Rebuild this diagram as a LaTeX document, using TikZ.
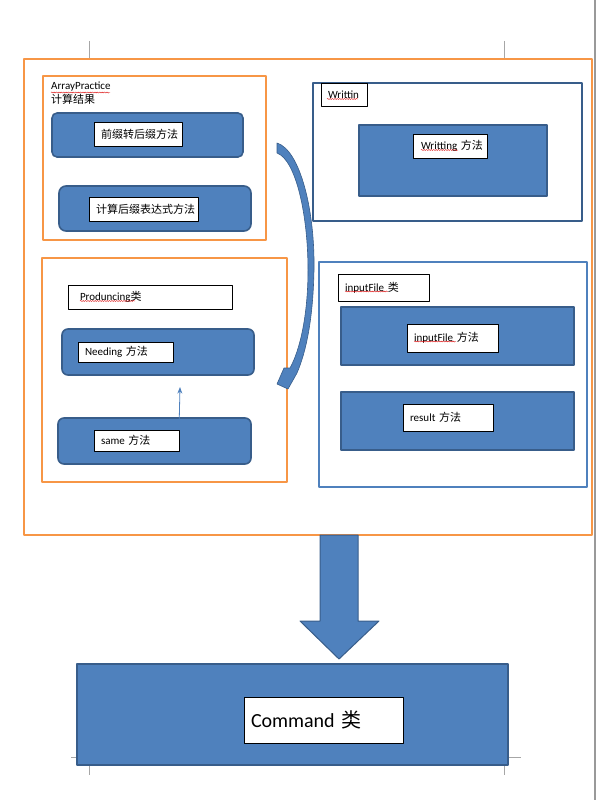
\documentclass[tikz,border=0pt]{standalone}
\usepackage{fontspec}
\setmainfont{Carlito}
\newfontfamily\cjk{Noto Sans CJK SC}
\usetikzlibrary{arrows.meta,decorations.pathmorphing}
\definecolor{wordblue}{HTML}{4F81BD}
\definecolor{wordedge}{HTML}{385D8A}
\definecolor{wordorange}{HTML}{F79646}
\tikzset{
  every picture/.style={font=\fontsize{11}{14}\selectfont, line join=round, >=Stealth},
  frame/.style n args={2}{draw=#1, line width=1.8pt, anchor=north west, inner sep=0pt, outer sep=0pt, minimum width=#2},
  method/.style n args={2}{fill=wordblue, draw=wordedge, line width=1.6pt, anchor=north west, inner sep=0pt, outer sep=0pt, minimum width=#1, minimum height=#2},
  namebox/.style n args={2}{draw, fill=white, line width=0.7pt, anchor=north west, inner xsep=7pt, inner ysep=0pt, outer sep=0pt, text width=#1-14pt, align=left, minimum height=#2},
  tick/.style={draw=gray!70, line width=0.8pt},
  spell/.style={draw=red!85!black, line width=0.4pt, decorate, decoration={snake, amplitude=0.6pt, segment length=2.4pt}},
}
\begin{document}
\begin{tikzpicture}[x=1pt,y=-1pt]
\useasboundingbox (0,0) rectangle (596,800);
\draw[gray!80,line width=2pt](594.5,0)--(594.5,800);
% page corner marks
\draw[tick](89,41)--(89,59) (504,41)--(504,59);
\draw[tick](71,757.5)--(78,757.5) (508,757.5)--(521,757.5);
\draw[tick](89,766)--(89,775) (504,766)--(504,775);

% outer frame
\node[frame={wordorange}{568pt},minimum height=476pt](outer)at(24,59){};

% ArrayPractice
\node[frame={wordorange}{223pt},minimum height=164pt](array)at(43,76){};
\node[anchor=north west,align=left,inner sep=0pt](arrayname)at(51,82){ArrayPractice\\{\cjk 计算结果}};
\node[method={191pt}{44pt},rounded corners=5pt](prefix)at(52,113){};
\node[namebox={88pt}{24pt}](prefixtag)at(94,122){\cjk 前缀转后缀方法};
\node[method={192pt}{45pt},rounded corners=7pt](calc)at(59,186){};
\node[namebox={109pt}{24pt}](calctag)at(89,197){\cjk 计算后缀表达式方法};

% Writtin
\node[frame={wordedge}{269pt},minimum height=138pt](writtin)at(313,83){};
\node[namebox={46pt}{23pt}](writtintag)at(321,83){Writtin};
\node[method={188pt}{71pt}](writting)at(359,125){};
\node[namebox={74pt}{24pt},inner xsep=2pt,text width=70pt](writtingtag)at(413,134){\hspace*{6pt}Writting {\cjk 方法}};

% Produncing
\node[frame={wordorange}{245pt},minimum height=224pt](produce)at(42,258){};
\node[namebox={164pt}{24pt}](producetag)at(68,285){\hspace*{5pt}Produncing{\cjk 类}};
\node[method={192pt}{46pt},rounded corners=6pt](needing)at(62,329){};
\node[namebox={95pt}{20pt}](needingtag)at(78,342){Needing {\cjk 方法}};
\node[method={193pt}{46pt},rounded corners=6pt](same)at(58,418){};
\node[namebox={85pt}{21pt}](sametag)at(94,430){same {\cjk 方法}};
\coordinate(upend)at(180,387);
\draw[->,wordblue,line width=0.8pt](sametag.north east)--(upend);

% inputFile
\node[frame={wordblue}{268pt},minimum height=225pt](input)at(319,262){};
\node[namebox={91pt}{27pt}](inputtag)at(338,274){inputFile {\cjk 类}};
\node[method={233pt}{58pt}](inputm)at(341,307){};
\node[namebox={91pt}{28pt}](inputmtag)at(407,324){inputFile {\cjk 方法}};
\node[method={233pt}{58pt}](result)at(341,392){};
\node[namebox={90pt}{27pt}](resulttag)at(403,404){result {\cjk 方法}};

% spell check marks
\draw[spell](51,92.5)--(110,92.5);
\draw[spell](327,99)--(358,99);
\draw[spell](421,150)--(458,150);
\draw[spell](80,301)--(135,301);
\draw[spell](345,291.5)--(388,291.5);
\draw[spell](414,341.5)--(456,341.5);

% curved arrow
\fill[wordblue,draw=wordedge,line width=0.6pt](277,143)
  .. controls (300,150) and (315,210) .. (314,270)
  .. controls (313,320) and (306,352) .. (297,373)
  -- (288,389) -- (277,384) -- (284,368) -- (290,368)
  .. controls (300,350) and (308,315) .. (308,270)
  .. controls (308,215) and (296,160) .. (277,153) -- cycle;

% Command
\node[method={431pt}{101pt}](command)at(77,664){};
\node[namebox={159pt}{46pt},font=\fontsize{20}{22}\selectfont](commandtag)at(244,697){Command {\cjk 类}};
\coordinate(dtop)at(339,535);
\coordinate(dtip)at(339,659);
\fill[wordblue,draw=wordedge,line width=1pt](dtop)++(-19,0)--++(0,86)--++(-20,0)--(dtip)
  --++(40,-38)--++(-21,0)--++(0,-86)--cycle;
\end{tikzpicture}
\end{document}
